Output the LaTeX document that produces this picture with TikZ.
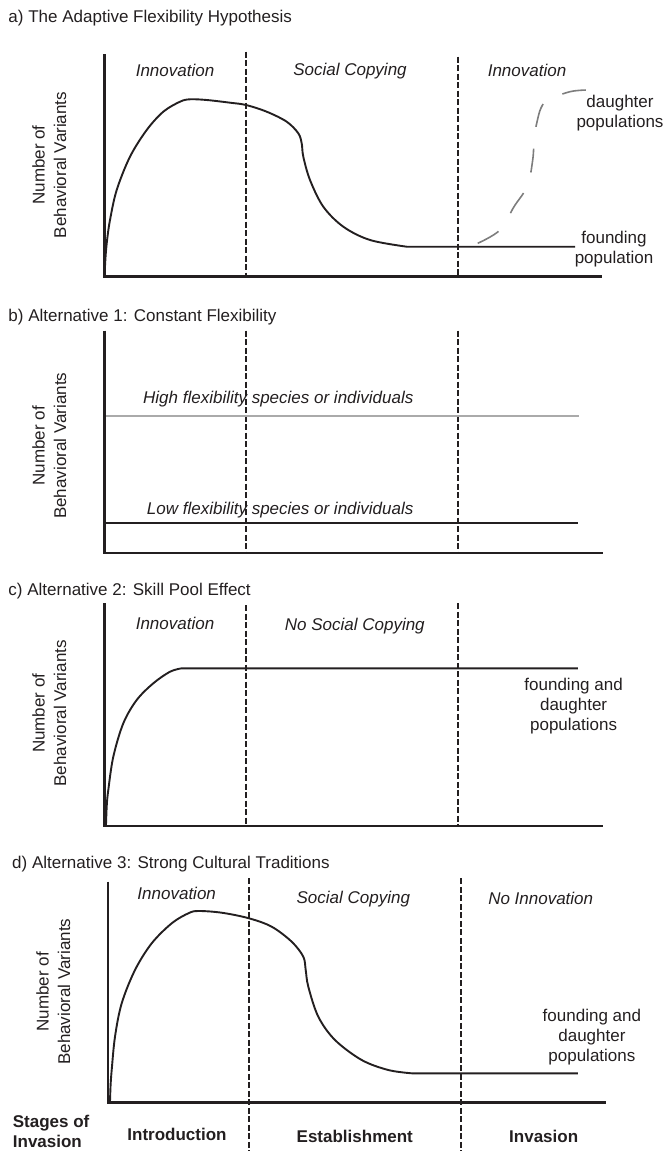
\documentclass[tikz,border=0pt]{standalone}
\usepackage{fontspec}
\setmainfont{Liberation Sans}
\usepackage{tikz}
\usetikzlibrary{positioning}
\definecolor{ink}{RGB}{35,31,32}
\definecolor{highgrey}{RGB}{170,170,170}
\definecolor{daughtergrey}{RGB}{125,125,125}

\begin{document}
\begin{tikzpicture}[x=1pt,y=-1pt,
    every node/.style={inner sep=0pt,text=ink,font=\fontsize{17}{20}\selectfont},
    axisline/.style={ink,line width=2.2pt},
    stageline/.style={ink,line width=1.5pt,dash pattern=on 6pt off 2.5pt},
    curveline/.style={ink,line width=1.9pt,line join=round},
    daughterline/.style={daughtergrey,line width=1.6pt,dash pattern=on 24pt off 22pt},
    heading/.style={anchor=base west},
    phase/.style={anchor=base,font=\fontsize{17}{20}\selectfont\itshape},
    note/.style={align=center},
    ylab/.style={rotate=90,align=center,font=\fontsize{17}{21.5}\selectfont},
    stagename/.style={anchor=base,font=\fontsize{17}{20}\selectfont\bfseries}]
    \useasboundingbox (0,0) rectangle (667,1151);

    % a) adaptive flexibility
    \node[heading] (titleA) at (8.3,22.7) {a) The Adaptive Flexibility Hypothesis};
    \foreach \x/\t in {246/51.7,458/56.7}
        \draw[stageline] (\x,\t) -- (\x,276.5);
    \draw[axisline] (104.5,54) -- (104.5,276.5) -- (602,276.5);
    \draw[curveline] plot[smooth,tension=0.55] coordinates {(104.5,276) (105.6,256) (107.1,240) (110,220) (116.7,190) (130,156.7) (146.7,130) (163.3,111.7) (180,101.7) (190,99.3) (206.7,100) (230,102.7) (246,105) (266.7,111.7) (286.7,121.7) (298.3,133.3) (301.7,143.3) (303.3,156.7) (310,180) (323.3,206.7) (343.3,226.7) (370,240) (406.7,246.7)} -- (575,246.7);
    \draw[daughterline] plot[smooth,tension=0.6] coordinates {(477.7,243.3) (500,230) (514,206.7) (527.3,186) (532.7,160) (534.3,136.7) (537,122) (541,108) (548,100) (570,91.7) (588.3,90)};
    \node[phase] (innovA) at (175,76) {Innovation};
    \node[phase] (copyA) at (350,75.5) {Social Copying};
    \node[phase] (reinnovA) at (527,76) {Innovation};
    \node[note] (daughterA) at (620,113) {daughter\\populations};
    \node[note] (foundA) at (614,249) {founding\\population};
    \node[ylab] (ylabA) at (49.2,165) {Number of\\Behavioral Variants};

    % b) constant flexibility
    \node[heading] (titleB) at (8.3,321) {b) Alternative 1: Constant Flexibility};
    \foreach \x in {246,458}
        \draw[stageline] (\x,330.7) -- (\x,552.7);
    \draw[axisline] (104.5,330.7) -- (104.5,552.7) -- (602.6,552.7);
    \draw[highgrey,line width=2pt] (106,415.5) -- (579,415.5);
    \draw[ink,line width=2pt] (105,523) -- (578,523);
    \node[phase,anchor=base east] (highB) at (413.6,403.3) {High flexibility species or individuals};
    \node[phase,anchor=base east] (lowB) at (413.6,514) {Low flexibility species or individuals};
    \node[ylab] (ylabB) at (49.2,445.8) {Number of\\Behavioral Variants};

    % c) skill pool
    \node[heading] (titleC) at (8.3,595) {c) Alternative 2: Skill Pool Effect};
    \foreach \x/\t in {246/605,458/603.3}
        \draw[stageline] (\x,\t) -- (\x,826);
    \draw[axisline] (104.5,603.3) -- (104.5,826) -- (602.6,826);
    \draw[curveline] plot[smooth,tension=0.55] coordinates {(106,825) (106.8,805) (108.3,790) (113.3,756.7) (123.3,723.3) (136.7,700) (153.3,683.3) (170,671.7) (181.7,668.3)} -- (577.8,668.3);
    \node[phase] (innovC) at (175,629.4) {Innovation};
    \node[phase] (nocopyC) at (354.8,630.3) {No Social Copying};
    \node[note] (foundC) at (573.6,706) {founding and\\daughter\\populations};
    \node[ylab] (ylabC) at (49.2,713.3) {Number of\\Behavioral Variants};

    % d) strong traditions
    \node[heading] (titleD) at (12,868.3) {d) Alternative 3: Strong Cultural Traditions};
    \foreach \x in {249,461}
        \draw[stageline] (\x,878.3) -- (\x,1151);
    \draw[axisline] (107.7,881.7) -- (107.7,1102.5) -- (605.5,1102.5);
    \draw[curveline] plot[smooth,tension=0.55] coordinates {(110,1101.7) (110.6,1085) (111.7,1070) (115,1036.7) (121.7,1003.3) (135,970) (151.7,943.3) (171.7,923.3) (188.3,913.3) (198.3,911) (221.7,912.7) (249,918.3) (271.7,926.7) (291.7,941.7) (303.3,956.7) (305.7,970) (308.3,986.7) (318.3,1016.7) (335,1040) (361.7,1060) (388.3,1070) (411.7,1073.3)} -- (577.8,1073.3);
    \node[phase] (innovD) at (176.7,899.3) {Innovation};
    \node[phase] (copyD) at (353.3,903.5) {Social Copying};
    \node[phase] (noinnovD) at (540.7,904) {No Innovation};
    \node[note] (foundD) at (591.9,1037) {founding and\\daughter\\populations};
    \node[ylab] (ylabD) at (53.3,991.7) {Number of\\Behavioral Variants};

    \node[align=left,anchor=west,font=\fontsize{17}{20}\selectfont\bfseries] (stagesD) at (12.7,1131) {Stages of\\Invasion};
    \node[stagename] (introD) at (177,1140) {Introduction};
    \node[stagename] (estabD) at (354.8,1142) {Establishment};
    \node[stagename] (invasD) at (543.7,1142) {Invasion};
\end{tikzpicture}
\end{document}
